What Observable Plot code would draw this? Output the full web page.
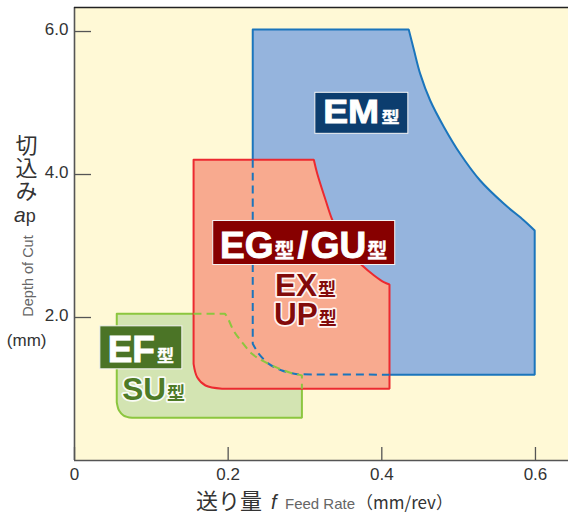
<!DOCTYPE html>
<html><head><meta charset="utf-8">
<script src="https://cdn.jsdelivr.net/npm/d3@7"></script>
<script src="https://cdn.jsdelivr.net/npm/@observablehq/plot@0.6"></script>
<style>
html,body{margin:0;padding:0;background:#fff;}
</style>
</head><body><div id="chart"></div>
<script>
// ---- data ----
const xTicks = [0, 0.2, 0.4, 0.6];
const yTicks = [2, 4, 6];
const xMax = 0.643, yMax = 6.336;

// boundary points [feed, depth, sharpJoint?]
// EF / SU region (green)
const efOutline = [
  [0.055, 2.052, 1], [0.196, 2.052, 1], [0.199, 2.004], [0.207, 1.818], [0.218, 1.655],
  [0.231, 1.492], [0.244, 1.399], [0.262, 1.305], [0.279, 1.235], [0.296, 1.189, 1],
  [0.296, 0.597, 1], [0.075, 0.597, 1], [0.064, 0.629], [0.058, 0.699], [0.055, 0.815, 1]
];
// EM region (blue)
const emOutline = [
  [0.232, 6.03, 1], [0.435, 6.03, 1], [0.442, 5.734], [0.450, 5.408], [0.463, 5.035],
  [0.481, 4.662], [0.502, 4.290], [0.528, 3.916], [0.559, 3.590], [0.585, 3.357],
  [0.599, 3.217, 1], [0.599, 1.2, 1], [0.290, 1.2, 1], [0.270, 1.259], [0.253, 1.352],
  [0.240, 1.492], [0.232, 1.632, 1]
];
// EG/GU, EX, UP region (red)
const egOutline = [
  [0.155, 4.206, 1], [0.3115, 4.206, 1], [0.316, 4.010], [0.327, 3.636], [0.335, 3.380],
  [0.3436, 3.189], [0.3527, 3.007], [0.3631, 2.853], [0.3745, 2.727], [0.390, 2.587],
  [0.4026, 2.494], [0.410, 2.462, 1], [0.410, 1.003, 1], [0.192, 1.003, 1], [0.1705, 1.049],
  [0.1597, 1.165], [0.155, 1.352, 1]
];
// outlines hidden under the red region (drawn dashed)
const emHidden = [
  [0.232, 4.206, 1], [0.232, 1.632, 1], [0.240, 1.492], [0.253, 1.352], [0.270, 1.259],
  [0.290, 1.205, 1], [0.410, 1.2, 1]
];
const efHidden = [
  [0.155, 2.052, 1], [0.196, 2.052, 1], [0.199, 2.004], [0.207, 1.818], [0.218, 1.655],
  [0.231, 1.492], [0.244, 1.399], [0.262, 1.305], [0.279, 1.235], [0.296, 1.189, 1],
  [0.296, 1.003, 1]
];
// labels (text + anchor in data units)
const boxLabels = [
  {key: "EM", x: 0.374, y: 4.856, parts: ["EM", "型"]},
  {key: "EG", x: 0.299, y: 3.042, parts: ["EG", "型", "/", "GU", "型"]},
  {key: "EF", x: 0.087, y: 1.576, parts: ["EF", "型"]}
];
const plainLabels = [
  {key: "EX", x: 0.3013, lines: [{y: 2.452, parts: ["EX", "型"]}, {y: 2.052, parts: ["UP", "型"]}]},
  {key: "SU", x: 0.1037, lines: [{y: 0.997, parts: ["SU", "型"]}]}
];
const yTitle = "切込み";
const xTitle = {jp: "送り量", sym: "f", en: "Feed Rate", unit: "（mm/rev）"};

// ---- styles ----
const latin = "'Liberation Sans', Arial, Helvetica, sans-serif";
const cjk = "'Noto Sans CJK JP', 'Noto Sans', sans-serif";
const boxStyle = {
  EM: {fill: "#0c3d6e", w: 93, h: 41, big: 33, small: 16, base: 10.5, sx: 1.13, dx: [0, 2]},
  EG: {fill: "#870000", w: 182, h: 44, big: 37, small: 20, base: 15.8, sx: 1, dx: [0, 1, 3, 3, 1]},
  EF: {fill: "#4b7426", w: 82, h: 43, big: 37, small: 17, base: 14.4, sx: 1, dx: [0, 2]}
};
const plainStyle = {
  EX: {fill: "#820a0a", big: 31.5, small: 18, base: 11.4},
  SU: {fill: "#4e7b27", big: 31.5, small: 18, base: 11.3}
};
// sharp joints are doubled so the smooth curve keeps them sharp / edges straight
const path = (a, close) => {
  const pts = close ? [...a, a[0]] : a;
  return pts.flatMap(p => p[2] ? [p, p] : [p]);
};
const XY = {x: d => d[0], y: d => d[1], curve: "catmull-rom"};

const chart = Plot.plot({
  width: 568, height: 518,
  marginLeft: 74, marginRight: 0, marginTop: 7, marginBottom: 58,
  style: {background: "white", color: "#333", fontFamily: latin, overflow: "visible"},
  x: {domain: [0, xMax]},
  y: {domain: [0, yMax]},
  marks: [
    Plot.frame({fill: "#fff9d6", stroke: null}),
    Plot.line(path(efOutline, true), {...XY, fill: "#d3e4b2", stroke: "#8cc63f", strokeWidth: 2, strokeLinejoin: "miter"}),
    Plot.line(path(emOutline, true), {...XY, fill: "#95b4dd", stroke: "#1b75bc", strokeWidth: 2, strokeLinejoin: "miter"}),
    Plot.line(path(egOutline, true), {...XY, fill: "#f8aa8f", stroke: "#ec2a30", strokeWidth: 2, strokeLinejoin: "miter"}),
    Plot.line(path(emHidden), {...XY, stroke: "#1b75bc", strokeWidth: 2, strokeDasharray: "8,5", strokeLinecap: "butt"}),
    Plot.line(path(efHidden), {...XY, stroke: "#8cc63f", strokeWidth: 2, strokeDasharray: "8,5", strokeLinecap: "butt"}),
    Plot.ruleX(xTicks, {x: d => d, insetTop: 440, stroke: "#555", strokeWidth: 1.3}),
    Plot.ruleY(yTicks, {y: d => d, insetRight: 477, stroke: "#555", strokeWidth: 1.3}),
    Plot.ruleX([0], {stroke: "#555", strokeWidth: 1.6}),
    Plot.ruleY([0], {stroke: "#555", strokeWidth: 1.6}),
    Plot.ruleY([yMax], {stroke: "#222", strokeWidth: 1.4}),
    Plot.axisX({ticks: xTicks, tickSize: 0, tickPadding: 7, fontSize: 17, label: null,
      tickFormat: d => d === 0 ? "0" : d.toFixed(1)}),
    Plot.axisY({ticks: yTicks, tickSize: 0, tickPadding: 6, fontSize: 17, label: null, dy: -2,
      tickFormat: d => d.toFixed(1)})
  ]
});
document.getElementById("chart").appendChild(chart);
const svgEl = chart.tagName.toLowerCase() === "svg" ? chart : chart.querySelector("svg");
const svg = d3.select(svgEl);
const sx = chart.scale("x"), sy = chart.scale("y");

// boxed labels
const gl = svg.append("g").attr("text-anchor", "middle");
for (const L of boxLabels) {
  const s = boxStyle[L.key];
  const cx = sx.apply(L.x), cy = sy.apply(L.y);
  gl.append("rect").attr("x", cx - s.w / 2).attr("y", cy - s.h / 2)
    .attr("width", s.w).attr("height", s.h)
    .attr("fill", s.fill).attr("stroke", "#f4f4f4").attr("stroke-width", 1);
  const t = gl.append("text").attr("x", cx).attr("y", cy + s.base)
    .attr("text-anchor", "middle").attr("fill", "#fff")
    .attr("stroke", "#fff").attr("font-weight", "bold")
    .attr("transform", `translate(${cx},0) scale(${s.sx},1) translate(${-cx},0)`);
  L.parts.forEach((p, i) => {
    const isCJK = p === "型";
    t.append("tspan").attr("dx", s.dx[i] || 0)
      .attr("font-size", isCJK ? s.small : s.big)
      .attr("font-family", isCJK ? cjk : latin)
      .attr("stroke-width", isCJK ? 0.3 : 0.9)
      .text(p);
  });
}
// haloed labels (one text element per label, halo via paint-order)
for (const L of plainLabels) {
  const s = plainStyle[L.key];
  const cx = sx.apply(L.x);
  const t = gl.append("text").attr("text-anchor", "middle").attr("font-weight", "bold")
    .attr("fill", s.fill).attr("stroke", "rgba(255,255,255,0.9)").attr("stroke-width", 3.5)
    .attr("stroke-linejoin", "round").style("paint-order", "stroke");
  for (const line of L.lines) {
    const cy = sy.apply(line.y);
    line.parts.forEach((p, i) => {
      const isCJK = p === "型";
      const sp = t.append("tspan")
        .attr("font-size", isCJK ? s.small : s.big)
        .attr("font-family", isCJK ? cjk : latin)
        .text(p);
      if (i === 0) sp.attr("x", cx).attr("y", cy + s.base);
      else sp.attr("dx", 1);
    });
  }
}

// axis titles
const ga = svg.append("g").attr("fill", "#333").attr("text-anchor", "start");
ga.append("text").attr("x", 26.5).attr("y", 134)
  .style("writing-mode", "vertical-rl").attr("letter-spacing", 1)
  .attr("font-family", cjk).attr("font-size", 22).text(yTitle);
const ap = ga.append("text").attr("x", 14).attr("y", 221.7).attr("font-family", latin);
ap.append("tspan").attr("font-style", "italic").attr("font-size", 21).text("a");
ap.append("tspan").attr("font-size", 18).text("p");
ga.append("text").attr("transform", "translate(33,276) rotate(-90)")
  .attr("text-anchor", "middle").attr("font-family", latin).attr("font-size", 14.5)
  .attr("fill", "#666").text("Depth of Cut");
ga.append("text").attr("x", 26.7).attr("y", 346).attr("text-anchor", "middle")
  .attr("font-family", latin).attr("font-size", 17).text("(mm)");

ga.append("text").attr("x", 196).attr("y", 509).attr("font-family", cjk)
  .attr("font-size", 22).text(xTitle.jp);
ga.append("text").attr("x", 271).attr("y", 509).attr("font-family", latin)
  .attr("font-style", "italic").attr("font-size", 20).text(xTitle.sym);
ga.append("text").attr("x", 285).attr("y", 509).attr("font-family", latin)
  .attr("font-size", 15).attr("fill", "#666").text(xTitle.en);
ga.append("text").attr("x", 356).attr("y", 509).attr("font-family", cjk)
  .attr("font-size", 17).text(xTitle.unit);
</script>
</body></html>
